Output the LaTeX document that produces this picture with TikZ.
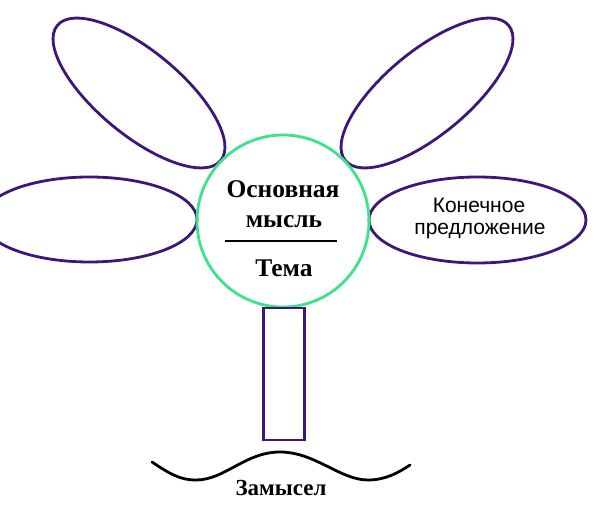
\documentclass[tikz,border=0pt]{standalone}
\usepackage{fontspec}
\setmainfont{Liberation Serif}
\newfontfamily\sansf{Liberation Sans}
\usetikzlibrary{shapes.geometric}
\definecolor{petal}{RGB}{62,22,120}
\definecolor{core}{RGB}{60,226,140}
\tikzset{
  x=1pt, y=1pt,
  petalshape/.style={draw=petal, line width=2.8pt, ellipse, inner sep=0pt},
  coreshape/.style={draw=core, line width=2.8pt, circle, inner sep=0pt, minimum size=172pt},
  stemshape/.style={draw=petal, line width=2.8pt, rectangle, inner sep=0pt, minimum width=41pt, minimum height=132pt},
  boldlabel/.style={font=\fontsize{25.5}{28}\selectfont\bfseries, inner sep=0pt, anchor=base},
  sanslabel/.style={font=\sansf\fontsize{21}{22}\selectfont, inner sep=0pt, anchor=base},
}
\begin{document}
\begin{tikzpicture}
\path[use as bounding box] (0,0) rectangle (600,-529);
% petals
\node[petalshape, minimum width=212pt, minimum height=84pt, rotate=-39.6] (petalUL) at (139,-93) {};
\node[petalshape, minimum width=212pt, minimum height=84pt, rotate=39.6] (petalUR) at (427,-93) {};
\node[petalshape, minimum width=215pt, minimum height=85pt] (petalL) at (89.5,-219.5) {};
\node[petalshape, minimum width=217pt, minimum height=86pt] (petalR) at (477.5,-220) {};
\node[sanslabel] (petalRtext1) at (479,-213) {Конечное};
\node[sanslabel] (petalRtext2) at (480,-235) {предложение};
% centre
\node[coreshape] (centre) at (283,-221) {};
\node[boldlabel] (idea1) at (283,-198) {Основная};
\node[boldlabel] (idea2) at (284,-228) {мысль};
\node[boldlabel] (theme) at (284,-277) {Тема};
\coordinate (barL) at (225,-241);
\coordinate (barR) at (337,-241);
\draw[line width=2.8pt] (barL) -- (barR);
% stem
\node[stemshape] (stem) at (284,-374) {};
% ground
\draw[line width=2.8pt, line cap=round]
  (152,-462) .. controls (170,-474) and (180,-480) .. (196,-480)
  .. controls (225,-480) and (245,-452) .. (280,-452)
  .. controls (315,-452) and (340,-480) .. (368,-480)
  .. controls (385,-480) and (398,-473) .. (410,-465);
\node[boldlabel, font=\fontsize{23}{26}\selectfont\bfseries] (plan) at (281,-495) {Замысел};
\end{tikzpicture}
\end{document}
